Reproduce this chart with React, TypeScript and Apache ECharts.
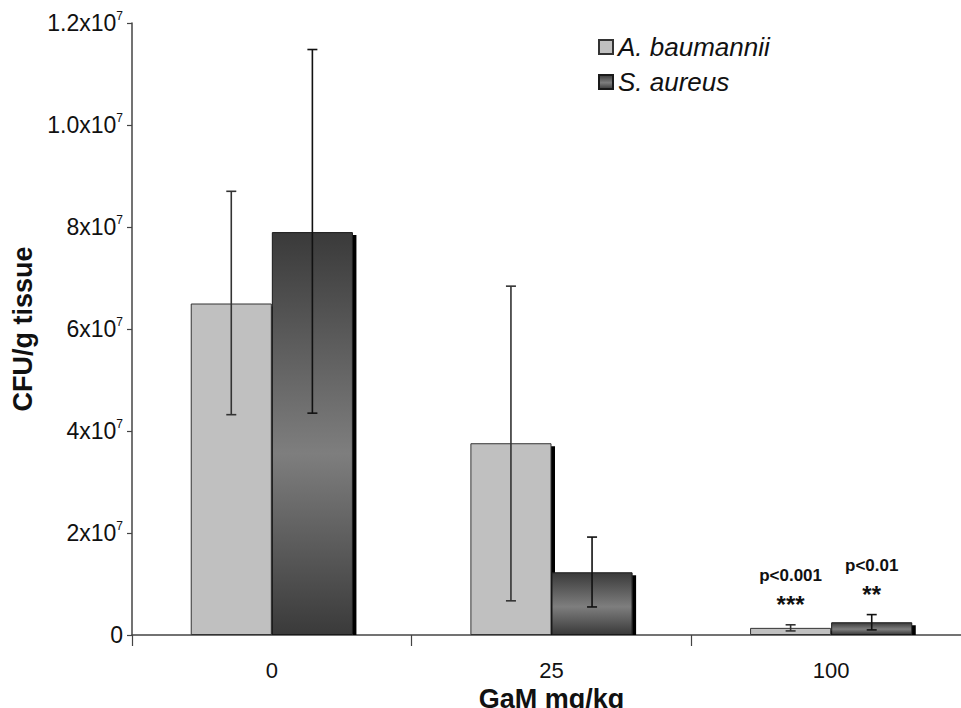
import React, { useEffect, useRef } from "react";
import * as echarts from "echarts";

const categories = ["0", "25", "100"];
const seriesNames = ["A. baumannii", "S. aureus"];
const baumanniiValues = [6.5e7, 3.76e7, 0.14e7];
const aureusValues = [7.9e7, 1.23e7, 0.25e7];
const baumanniiErrLow = [4.32e7, 0.67e7, 0.08e7];
const baumanniiErrHigh = [8.7e7, 6.84e7, 0.2e7];
const aureusErrLow = [4.35e7, 0.55e7, 0.1e7];
const aureusErrHigh = [11.48e7, 1.92e7, 0.4e7];
const pLabels = ["p<0.001", "p<0.01"];
const starLabels = ["***", "**"];
const annotatedCategory = 2;
const yTickBase = ["0", "2x10", "4x10", "6x10", "8x10", "1.0x10", "1.2x10"];
const yTickExp = ["", "7", "7", "7", "7", "7", "7"];

const FONT = "'Liberation Sans', Arial, sans-serif";
const BAR_FRAC = 0.29;

export default function App() {
  const ref = useRef<HTMLDivElement>(null);
  useEffect(() => {
    const chart = echarts.init(ref.current!, null, { renderer: "svg" });
    const darkGrad = new echarts.graphic.LinearGradient(0, 0, 0, 1, [
      { offset: 0, color: "#3a3a3a" },
      { offset: 0.55, color: "#7e7e7e" },
      { offset: 1, color: "#3a3a3a" },
    ]);

    const shadowSeries = (vals: number[], side: number) => ({
      type: "custom",
      z: 1,
      silent: true,
      data: vals.map((v, i) => [i, v]),
      renderItem: (params: any, api: any) => {
        const cat = api.value(0);
        const val = api.value(1);
        const bw = api.size([1, 0])[0];
        const w = bw * BAR_FRAC;
        const cx = api.coord([cat, 0])[0] + side * w / 2;
        const top = api.coord([cat, val])[1];
        const bottom = api.coord([cat, 0])[1];
        return {
          type: "rect",
          shape: { x: cx + w / 2 - 0.5, y: top + 3, width: 4, height: Math.max(0, bottom - top - 3) },
          style: { fill: "#000" },
        };
      },
    });

    const errSeries = (low: number[], high: number[], side: number, color: string) => ({
      type: "custom",
      z: 5,
      silent: true,
      data: low.map((l, i) => [i, l, high[i]]),
      renderItem: (params: any, api: any) => {
        const cat = api.value(0);
        const bw = api.size([1, 0])[0];
        const w = bw * BAR_FRAC;
        const x = api.coord([cat, 0])[0] + side * w / 2;
        const yl = api.coord([cat, api.value(1)])[1];
        const yh = api.coord([cat, api.value(2)])[1];
        const st = { stroke: color, lineWidth: 1.6 };
        return {
          type: "group",
          children: [
            { type: "line", shape: { x1: x, y1: yl, x2: x, y2: yh }, style: st },
            { type: "line", shape: { x1: x - 5, y1: yl, x2: x + 5, y2: yl }, style: st },
            { type: "line", shape: { x1: x - 5, y1: yh, x2: x + 5, y2: yh }, style: st },
          ],
        };
      },
    });

    const annotSeries = {
      type: "custom",
      z: 6,
      silent: true,
      data: [
        [annotatedCategory, baumanniiErrHigh[annotatedCategory], -1],
        [annotatedCategory, aureusErrHigh[annotatedCategory], 1],
      ],
      renderItem: (params: any, api: any) => {
        const cat = api.value(0);
        const side = api.value(2);
        const bw = api.size([1, 0])[0];
        const w = bw * BAR_FRAC;
        const x = api.coord([cat, 0])[0] + side * w / 2;
        const y = api.coord([cat, api.value(1)])[1];
        const i = params.dataIndex;
        return {
          type: "group",
          children: [
            {
              type: "text",
              style: {
                x, y: y - 49, text: pLabels[i], fill: "#111",
                font: `bold 17px ${FONT}`, align: "center", verticalAlign: "middle",
              },
            },
            {
              type: "text",
              style: {
                x, y: y - 20, text: starLabels[i], fill: "#111",
                font: `bold 24px ${FONT}`, align: "center", verticalAlign: "middle",
              },
            },
          ],
        };
      },
    };

    chart.setOption({
      animation: false,
      backgroundColor: "#fff",
      textStyle: { fontFamily: FONT },
      grid: { left: 132, right: -10, top: 23, bottom: 73, containLabel: false, outerBoundsMode: "none" },
      legend: {
        data: seriesNames,
        orient: "vertical",
        left: 598,
        top: 34,
        padding: 0,
        itemWidth: 14,
        itemHeight: 14,
        itemGap: 9,
        icon: "rect",
        textStyle: { fontStyle: "italic", fontSize: 26, color: "#111", fontFamily: FONT },
      },
      xAxis: {
        type: "category",
        data: categories,
        name: "GaM mg/kg",
        nameLocation: "middle",
        nameGap: 46,
        nameTextStyle: { fontSize: 27, fontWeight: "bold", color: "#111", fontFamily: FONT },
        axisLine: { lineStyle: { color: "#444", width: 1.5 } },
        axisTick: { show: true, length: 11, lineStyle: { color: "#444", width: 1.2 } },
        axisLabel: { fontSize: 22, color: "#111", margin: 24, fontFamily: FONT },
      },
      yAxis: {
        type: "value",
        min: 0,
        max: 1.2e8,
        interval: 2e7,
        name: "CFU/g tissue",
        nameLocation: "middle",
        nameGap: 81,
        nameTextStyle: { fontSize: 27, fontWeight: "bold", color: "#111", fontFamily: FONT },
        splitLine: { show: false },
        axisLine: { show: true, lineStyle: { color: "#444", width: 1.5 } },
        axisTick: { show: true, length: 5, lineStyle: { color: "#444", width: 1.2 } },
        axisLabel: {
          margin: 9,
          color: "#111",
          formatter: (v: number) => {
            const i = Math.round(v / 2e7);
            return yTickExp[i] ? `{b|${yTickBase[i]}}{s|${yTickExp[i]}}` : `{b|${yTickBase[i]}}`;
          },
          rich: {
            b: { fontSize: 23, color: "#111", fontFamily: FONT, lineHeight: 26 },
            s: { fontSize: 12, color: "#111", fontFamily: FONT, verticalAlign: "top", lineHeight: 14 },
          },
        },
      },
      series: [
        shadowSeries(baumanniiValues, -1),
        shadowSeries(aureusValues, 1),
        {
          name: seriesNames[0],
          type: "bar",
          z: 2,
          barWidth: `${BAR_FRAC * 100}%`,
          barGap: "0%",
          data: baumanniiValues,
          itemStyle: { color: "#c0c0c0", borderColor: "#333", borderWidth: 1 },
        },
        {
          name: seriesNames[1],
          type: "bar",
          z: 3,
          barWidth: `${BAR_FRAC * 100}%`,
          barGap: "0%",
          data: aureusValues,
          itemStyle: { color: darkGrad, borderColor: "#1a1a1a", borderWidth: 1 },
        },
        errSeries(baumanniiErrLow, baumanniiErrHigh, -1, "#333"),
        errSeries(aureusErrLow, aureusErrHigh, 1, "#111"),
        annotSeries,
      ],
    });
    return () => chart.dispose();
  }, []);
  return (
    <div
      ref={ref}
      style={{ position: "absolute", left: 0, top: 0, width: 961, height: 708 }}
    />
  );
}
